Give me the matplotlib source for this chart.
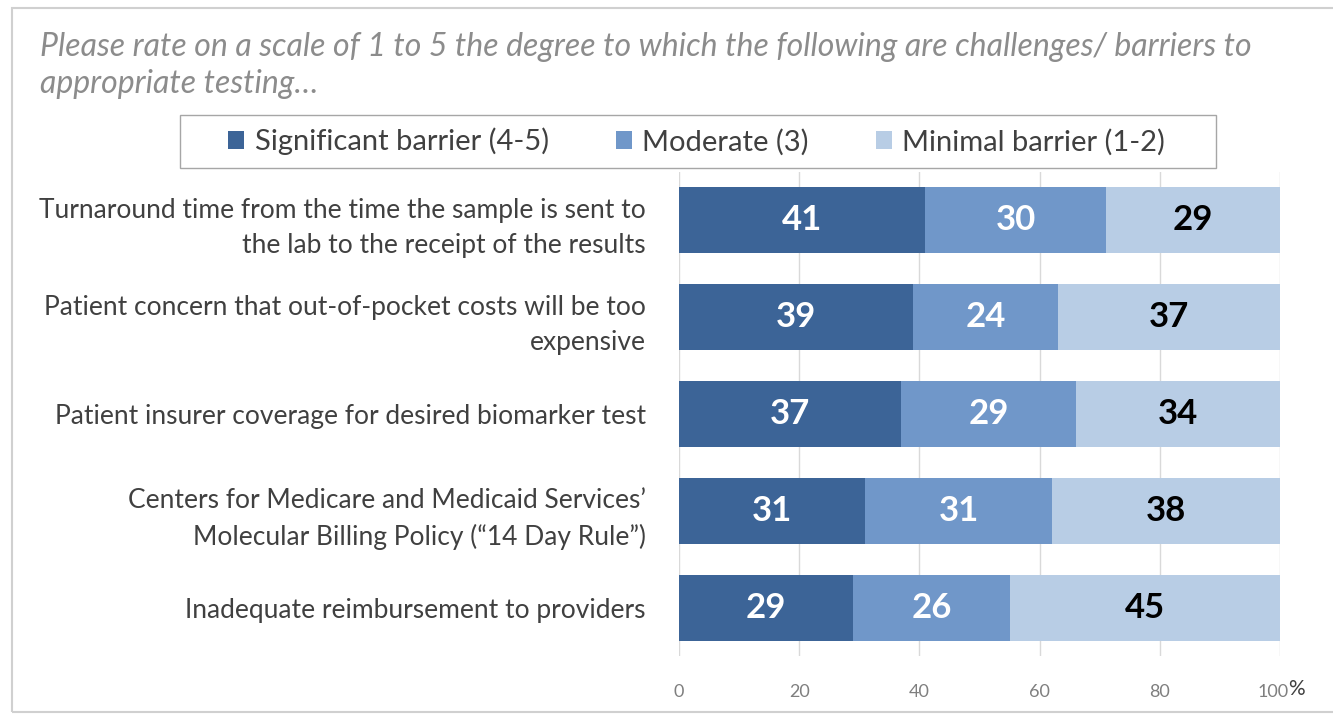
import matplotlib
matplotlib.use("Agg")
import matplotlib.pyplot as plt
import matplotlib.transforms as mtransforms
from matplotlib.patches import Rectangle

plt.rcParams['font.family'] = ['Lato', 'DejaVu Sans']

# data
categories = [
    "Turnaround time from the time the sample is sent to\nthe lab to the receipt of the results",
    "Patient concern that out-of-pocket costs will be too\nexpensive",
    "Patient insurer coverage for desired biomarker test",
    "Centers for Medicare and Medicaid Services\u2019\nMolecular Billing Policy (\u201c14 Day Rule\u201d)",
    "Inadequate reimbursement to providers",
]
significant = [41, 39, 37, 31, 29]
moderate = [30, 24, 29, 31, 26]
minimal = [29, 37, 34, 38, 45]
series_names = ["Significant barrier (4-5)", "Moderate (3)", "Minimal barrier (1-2)"]
colors = ["#3C6497", "#7097C9", "#B8CDE5"]
text_colors = ["white", "white", "black"]
xticks = [0, 20, 40, 60, 80, 100]

fig = plt.figure(figsize=(13.33, 7.21), dpi=100)
ax = fig.add_axes([0.5094, 0.0895, 0.4508, 0.6726])

ypos = list(range(len(categories)))
left = [0] * len(categories)
for vals, name, col, tcol in zip([significant, moderate, minimal], series_names, colors, text_colors):
    bars = ax.barh(ypos, vals, left=left, height=0.68, color=col, label=name, zorder=2)
    for b, v in zip(bars, vals):
        ax.text(b.get_x() + b.get_width() / 2, b.get_y() + b.get_height() / 2, str(v),
                ha='center', va='center', color=tcol, fontsize=25, fontweight='bold', zorder=3)
    left = [l + v for l, v in zip(left, vals)]

ax.set_xlim(0, 100)
ax.set_ylim(len(categories) - 0.5, -0.5)
ax.set_xticks(xticks)
ax.set_xticklabels([str(t) for t in xticks], color='#7f7f7f', fontsize=13)
ax.tick_params(axis='x', length=0, pad=20)
# nudge "100" left so the "%" sign fits after it
last = ax.get_xticklabels()[-1]
last.set_transform(last.get_transform() + mtransforms.ScaledTranslation(-0.07, 0, fig.dpi_scale_trans))
ax.set_yticks(ypos)
ax.set_yticklabels(categories, fontsize=19, color='#404040', linespacing=1.5)
ax.tick_params(axis='y', length=0, pad=24)
ax.grid(axis='x', color='#d9d9d9', linewidth=1, zorder=0)
for s in ax.spines.values():
    s.set_visible(False)

fig.text(0.9665, 0.044, "%", fontsize=15, color='#404040', ha='left', va='center')

# title
fig.text(0.030, 0.909, "Please rate on a scale of 1 to 5 the degree to which the following are challenges/ barriers to\nappropriate testing\u2026",
         fontsize=23, style='italic', color='#8c8c8c', ha='left', va='center', linespacing=1.3)

# legend (box drawn separately so it can be wider than its content)
leg = fig.legend(loc='center', bbox_to_anchor=(0.5225, 0.8035), ncol=3, fontsize=21,
                 frameon=False, handlelength=0.55, handleheight=0.55,
                 handletextpad=0.35, columnspacing=2.3)
for t in leg.get_texts():
    t.set_color('#404040')
fig.patches.append(Rectangle((0.135, 0.767), 0.777, 0.074, transform=fig.transFigure,
                             fill=False, edgecolor='#a6a6a6', linewidth=1))

# outer border
fig.patches.append(Rectangle((0.009, 0.013), 1.1, 0.976, transform=fig.transFigure,
                             fill=False, edgecolor='#d0d0d0', linewidth=1.5))

fig.savefig("out.png", dpi=100)
